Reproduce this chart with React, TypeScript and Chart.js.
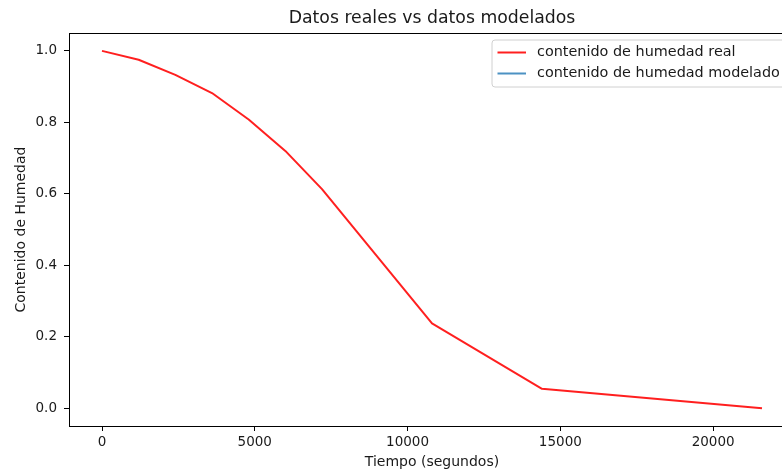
import React, { useEffect, useRef } from 'react';
import { Chart, registerables } from 'chart.js';

Chart.register(...registerables);

const timeSeconds = [0, 1200, 2400, 3600, 4800, 6000, 7200, 10800, 14400, 21600];
const realMoisture = [1.0, 0.975, 0.933, 0.882, 0.808, 0.72, 0.613, 0.237, 0.054, 0.0];
const modeledMoisture: number[] = [];
const xTickValues = [0, 5000, 10000, 15000, 20000];
const yTickValues = [0.0, 0.2, 0.4, 0.6, 0.8, 1.0];
const seriesLabels = ['contenido de humedad real', 'contenido de humedad modelado'];
const seriesColors = ['rgba(255,0,0,0.88)', 'rgba(31,119,180,0.8)'];
const chartTitle = 'Datos reales vs datos modelados';
const xAxisTitle = 'Tiempo (segundos)';
const yAxisTitle = 'Contenido de Humedad';

const FONT = '"DejaVu Sans", sans-serif';
const TEXT = '#1a1a1a';

export default function App() {
  const ref = useRef<HTMLCanvasElement | null>(null);

  useEffect(() => {
    if (!ref.current) return;
    const xMinD = Math.min(...timeSeconds);
    const xMaxD = Math.max(...timeSeconds);
    const xSpan = xMaxD - xMinD;
    const yMinD = Math.min(...realMoisture);
    const yMaxD = Math.max(...realMoisture);
    const ySpan = yMaxD - yMinD;

    const framePlugin = {
      id: 'frameAndDecor',
      afterDatasetsDraw(chart: any) {
        const { ctx, chartArea } = chart;
        ctx.save();
        ctx.strokeStyle = '#000';
        ctx.lineWidth = 1;
        ctx.strokeRect(
          Math.round(chartArea.left) + 0.5,
          Math.round(chartArea.top) + 0.5,
          Math.round(chartArea.right - chartArea.left),
          Math.round(chartArea.bottom - chartArea.top)
        );
        ctx.restore();
      },
      afterDraw(chart: any) {
        const { ctx, chartArea } = chart;
        ctx.save();
        // title
        ctx.fillStyle = TEXT;
        ctx.font = `17.3px ${FONT}`;
        ctx.textAlign = 'center';
        ctx.textBaseline = 'alphabetic';
        ctx.fillText(chartTitle, (chartArea.left + chartArea.right) / 2, 23);

        // legend
        const boxRight = chartArea.right - 7;
        const boxTop = chartArea.top + 7;
        const boxLeft = 492;
        const boxBottom = 87;
        const r = 3;
        ctx.beginPath();
        ctx.moveTo(boxLeft + r, boxTop);
        ctx.lineTo(boxRight - r, boxTop);
        ctx.arcTo(boxRight, boxTop, boxRight, boxTop + r, r);
        ctx.lineTo(boxRight, boxBottom - r);
        ctx.arcTo(boxRight, boxBottom, boxRight - r, boxBottom, r);
        ctx.lineTo(boxLeft + r, boxBottom);
        ctx.arcTo(boxLeft, boxBottom, boxLeft, boxBottom - r, r);
        ctx.lineTo(boxLeft, boxTop + r);
        ctx.arcTo(boxLeft, boxTop, boxLeft + r, boxTop, r);
        ctx.closePath();
        ctx.fillStyle = 'rgba(255,255,255,0.8)';
        ctx.fill();
        ctx.strokeStyle = '#d0d0d0';
        ctx.lineWidth = 1;
        ctx.stroke();

        const rows = [52.5, 73.5];
        seriesLabels.forEach((label, i) => {
          const y = rows[i];
          ctx.strokeStyle = seriesColors[i];
          ctx.lineWidth = 2;
          ctx.beginPath();
          ctx.moveTo(boxLeft + 5.5, y);
          ctx.lineTo(boxLeft + 34, y);
          ctx.stroke();
          ctx.fillStyle = TEXT;
          ctx.font = `14.4px ${FONT}`;
          ctx.textAlign = 'left';
          ctx.textBaseline = 'middle';
          ctx.fillText(label, boxLeft + 45, y);
        });
        ctx.restore();
      },
    };

    const chart = new Chart(ref.current, {
      type: 'line',
      data: {
        datasets: [
          {
            label: seriesLabels[0],
            data: timeSeconds.map((t, i) => ({ x: t, y: realMoisture[i] })),
            borderColor: seriesColors[0],
            borderWidth: 2,
            pointRadius: 0,
            tension: 0,
            fill: false,
            borderJoinStyle: 'round',
          },
          {
            label: seriesLabels[1],
            data: modeledMoisture.map((v, i) => ({ x: timeSeconds[i], y: v })),
            borderColor: seriesColors[1],
            borderWidth: 2,
            pointRadius: 0,
            fill: false,
          },
        ],
      },
      options: {
        responsive: false,
        animation: false,
        devicePixelRatio: 1,
        layout: { padding: { top: 33, right: 35, left: 0, bottom: 0 } },
        plugins: {
          legend: { display: false },
          title: { display: false },
          tooltip: { enabled: false },
        },
        scales: {
          x: {
            type: 'linear',
            min: xMinD - 0.05 * xSpan,
            max: xMaxD + 0.05 * xSpan,
            afterBuildTicks: (scale: any) => {
              scale.ticks = xTickValues.map((v) => ({ value: v }));
            },
            afterFit: (scale: any) => {
              scale.height = 49;
            },
            grid: {
              display: true,
              drawOnChartArea: false,
              drawTicks: true,
              tickLength: 5,
              color: '#000',
              lineWidth: 1,
            },
            border: { display: false },
            ticks: {
              color: TEXT,
              font: { family: 'DejaVu Sans', size: 13.5 },
              padding: 3,
              maxRotation: 0,
              autoSkip: false,
              callback: (v: any) => String(v),
            },
            title: {
              display: true,
              text: xAxisTitle,
              color: TEXT,
              font: { family: 'DejaVu Sans', size: 14 },
              padding: { top: 0, bottom: 4 },
            },
          },
          y: {
            type: 'linear',
            min: yMinD - 0.05 * ySpan,
            max: yMaxD + 0.05 * ySpan,
            afterBuildTicks: (scale: any) => {
              scale.ticks = yTickValues.map((v) => ({ value: v }));
            },
            afterFit: (scale: any) => {
              scale.width = 69;
            },
            grid: {
              display: true,
              drawOnChartArea: false,
              drawTicks: true,
              tickLength: 5,
              color: '#000',
              lineWidth: 1,
            },
            border: { display: false },
            ticks: {
              color: TEXT,
              font: { family: 'DejaVu Sans', size: 13.5 },
              padding: 7,
              autoSkip: false,
              callback: (v: any) => Number(v).toFixed(1),
            },
            title: {
              display: true,
              text: yAxisTitle,
              color: TEXT,
              font: { family: 'DejaVu Sans', size: 14 },
              padding: { top: 13, bottom: 0 },
            },
          },
        },
      },
      plugins: [framePlugin],
    } as any);

    return () => chart.destroy();
  }, []);

  return (
    <div
      style={{
        position: 'fixed',
        left: 0,
        top: 0,
        width: 782,
        height: 475,
        overflow: 'hidden',
        background: '#fff',
      }}
    >
      <canvas ref={ref} width={830} height={475} style={{ width: 830, height: 475, display: 'block' }} />
    </div>
  );
}
